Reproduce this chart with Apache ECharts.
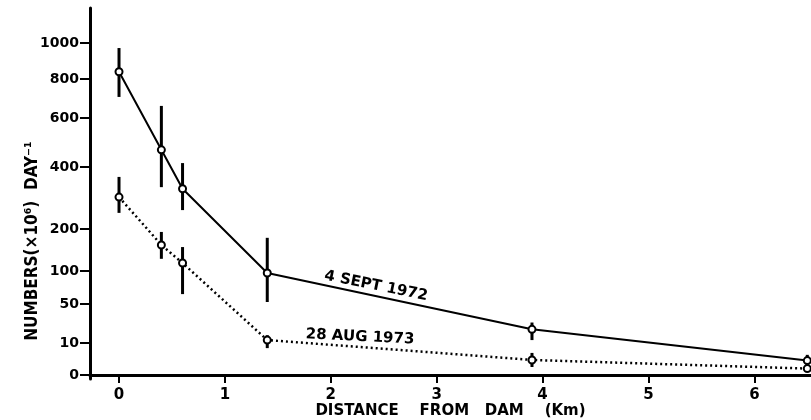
<!DOCTYPE html>
<html>
<head>
<meta charset="utf-8">
<script src="https://cdn.jsdelivr.net/npm/echarts@6/dist/echarts.min.js"></script>
<style>
  html, body { margin: 0; padding: 0; background: #fff; }
  #chart-01 { width: 811px; height: 420px; }
</style>
</head>
<body>
<div id="chart-01"></div>
<script>
// distance from dam (km)
var distance = [0, 0.4, 0.6, 1.4, 3.9, 6.5];
// 4 sept 1972: mean and error bar ends
var sept1972 = [840, 470, 330, 97, 24, 4.5];
var sept1972Lo = [708, 335, 261, 53, 13, 2.2];
var sept1972Hi = [972, 662, 416, 179, 31, 6.3];
// 28 aug 1973
var aug1973 = [303, 162, 119, 13, 4.7, 2];
var aug1973Lo = [252, 129, 65, 8.4, 2.5, 1];
var aug1973Hi = [368, 193, 157, 18, 6.9, 3];
// y tick labels and the (uneven) axis positions they sit at
var yTicks = [0, 10, 50, 100, 200, 400, 600, 800, 1000];
var yTickPos = [0, 32, 71, 104, 146, 208, 257, 296, 332];
var xTicks = [0, 1, 2, 3, 4, 5, 6];

// piecewise linear mapping of the hand drawn y scale
function scaleY(v) {
    for (var i = 1; i < yTicks.length; i++) {
        if (v <= yTicks[i] || i == yTicks.length - 1) {
            var t = (v - yTicks[i - 1]) / (yTicks[i] - yTicks[i - 1]);
            return yTickPos[i - 1] + t * (yTickPos[i] - yTickPos[i - 1]);
        }
    }
}

function pts(vals) {
    return distance.map(function (d, i) { return [d, scaleY(vals[i])]; });
}
function bars(lo, hi) {
    return distance.map(function (d, i) { return [d, scaleY(lo[i]), scaleY(hi[i])]; });
}

function errorBar(params, api) {
    var a = api.coord([api.value(0), api.value(1)]);
    var b = api.coord([api.value(0), api.value(2)]);
    return {
        type: 'line',
        shape: { x1: a[0], y1: a[1], x2: b[0], y2: b[1] },
        style: { stroke: '#000', lineWidth: 3 }
    };
}

var font = 'DejaVu Sans';
var myChart01 = echarts.init(document.getElementById('chart-01'));
var option01 = {
    animation: false,
    backgroundColor: '#fff',
    grid: { left: 90, right: 0, top: 8, bottom: 41, outerBoundsMode: 'none', containLabel: false },
    xAxis: {
        type: 'value',
        min: -0.274,
        max: 6.535,
        name: 'DISTANCE    FROM   DAM    (Km)',
        nameLocation: 'middle',
        nameGap: 25,
        nameMoveOverlap: false,
        nameTextStyle: { color: '#000', fontSize: 15, fontWeight: 'bold', fontFamily: font },
        axisLine: { onZero: true, lineStyle: { color: '#000', width: 3 } },
        axisTick: { customValues: xTicks, length: 8, lineStyle: { color: '#000', width: 2 } },
        axisLabel: {
            customValues: xTicks, margin: 9, color: '#000',
            fontSize: 15, fontWeight: 'bold', fontFamily: font
        },
        splitLine: { show: false }
    },
    yAxis: {
        type: 'value',
        min: -4,
        max: 367,
        axisLine: { show: true, onZero: false, lineStyle: { color: '#000', width: 3 } },
        axisTick: { show: true, customValues: yTickPos, length: 10, lineStyle: { color: '#000', width: 2 } },
        axisLabel: {
            customValues: yTickPos, margin: 11, color: '#000',
            fontSize: 14, fontWeight: 'bold', fontFamily: font,
            formatter: function (v) { return yTicks[yTickPos.indexOf(v)]; }
        },
        splitLine: { show: false }
    },
    graphic: [
        {
            type: 'text', x: 33, y: 241, rotation: Math.PI / 2,
            style: {
                text: 'NUMBERS(×10⁶)  DAY⁻¹', fill: '#000', align: 'center', verticalAlign: 'middle',
                font: 'bold 17px "DejaVu Sans Condensed"'
            }
        },
        {
            type: 'text', x: 376, y: 286, rotation: -0.2,
            style: {
                text: '4 SEPT 1972', fill: '#000', align: 'center', verticalAlign: 'middle',
                font: 'bold 15px "DejaVu Sans"'
            }
        },
        {
            type: 'text', x: 360, y: 337, rotation: -0.05,
            style: {
                text: '28 AUG 1973', fill: '#000', align: 'center', verticalAlign: 'middle',
                font: 'bold 15px "DejaVu Sans"'
            }
        }
    ],
    series: [
        {
            name: '4 SEPT 1972 err',
            type: 'custom',
            renderItem: errorBar,
            z: 2,
            data: bars(sept1972Lo, sept1972Hi)
        },
        {
            name: '28 AUG 1973 err',
            type: 'custom',
            renderItem: errorBar,
            z: 2,
            data: bars(aug1973Lo, aug1973Hi)
        },
        {
            name: '4 SEPT 1972',
            type: 'line',
            z: 3,
            symbol: 'circle',
            symbolSize: 7,
            itemStyle: { color: '#fff', borderColor: '#000', borderWidth: 2 },
            lineStyle: { color: '#000', width: 2 },
            data: pts(sept1972)
        },
        {
            name: '28 AUG 1973',
            type: 'line',
            z: 3,
            symbol: 'circle',
            symbolSize: 7,
            itemStyle: { color: '#fff', borderColor: '#000', borderWidth: 2 },
            lineStyle: { color: '#000', width: 2.5, type: [2, 3] },
            data: pts(aug1973)
        }
    ]
};
myChart01.setOption(option01);
</script>
</body>
</html>
